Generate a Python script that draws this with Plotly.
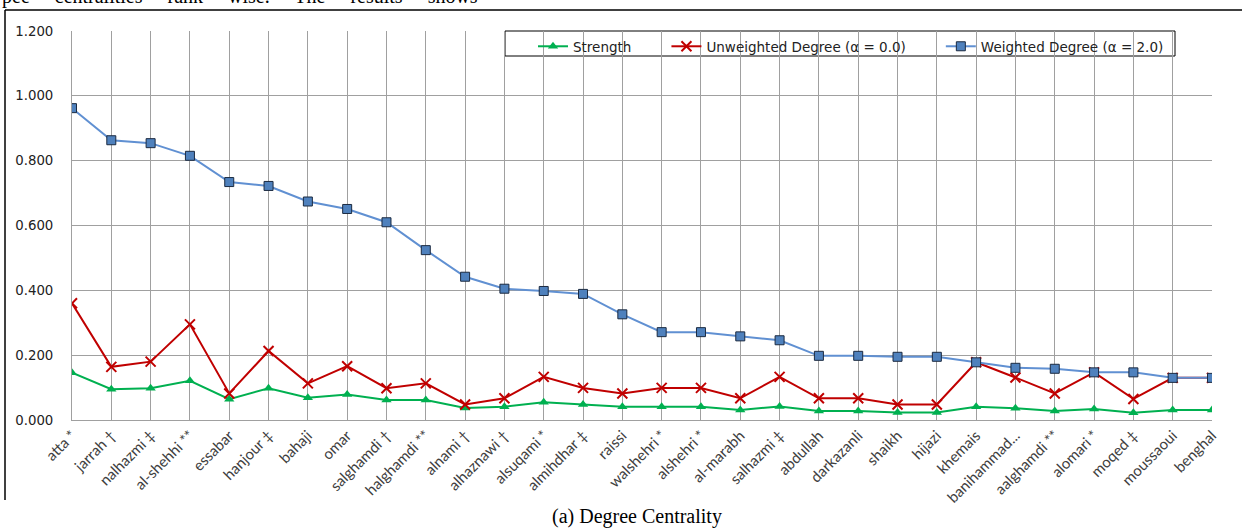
import plotly.graph_objects as go

categories = ["atta *", "jarrah \u2020", "nalhazmi \u2021", "al-shehhi **", "essabar", "hanjour \u2021",
              "bahaji", "omar", "salghamdi \u2020", "halghamdi **", "alnami \u2020", "alhaznawi \u2020",
              "alsuqami *", "almihdhar \u2021", "raissi", "walshehri *", "alshehri *", "al-marabh",
              "salhazmi \u2021", "abdullah", "darkazanli", "shaikh", "hijazi", "khemais",
              "banihammad...", "aalghamdi **", "alomari *", "moqed \u2021", "moussaoui", "benghal"]

strength = [0.146, 0.095, 0.098, 0.121, 0.064, 0.098, 0.069, 0.079, 0.062, 0.062,
            0.037, 0.041, 0.055, 0.048, 0.041, 0.041, 0.041, 0.031, 0.042, 0.028,
            0.028, 0.023, 0.023, 0.041, 0.036, 0.028, 0.034, 0.022, 0.031, 0.031]

unweighted = [0.360, 0.164, 0.180, 0.295, 0.082, 0.213, 0.113, 0.166, 0.098, 0.113,
              0.048, 0.067, 0.133, 0.099, 0.082, 0.099, 0.099, 0.067, 0.133, 0.067,
              0.067, 0.048, 0.048, 0.178, 0.131, 0.082, 0.147, 0.065, 0.130, 0.130]

weighted = [0.962, 0.863, 0.854, 0.815, 0.734, 0.722, 0.674, 0.651, 0.610, 0.524,
            0.442, 0.405, 0.398, 0.389, 0.326, 0.271, 0.271, 0.258, 0.246, 0.198,
            0.198, 0.195, 0.195, 0.178, 0.161, 0.158, 0.147, 0.147, 0.130, 0.130]

y_ticks = [0.0, 0.2, 0.4, 0.6, 0.8, 1.0, 1.2]

GAP = "\u00a0" * 7

fig = go.Figure()
fig.add_trace(go.Scatter(x=categories, y=strength, mode="lines+markers", name="Strength" + GAP,
                         line=dict(color="#00B050", width=2),
                         marker=dict(symbol="triangle-up", size=9, color="#00B050")))
fig.add_trace(go.Scatter(x=categories, y=unweighted, mode="lines+markers",
                         name="Unweighted Degree (\u03b1 = 0.0)" + GAP,
                         line=dict(color="#C00000", width=2),
                         marker=dict(symbol="x-thin", size=10, color="#C00000",
                                     line=dict(color="#C00000", width=2))))
fig.add_trace(go.Scatter(x=categories, y=weighted, mode="lines+markers",
                         name="Weighted Degree (\u03b1 = 2.0)",
                         line=dict(color="#6090D2", width=2),
                         marker=dict(symbol="square", size=9, color="#4F81BD",
                                     line=dict(color="#1B2A40", width=1))))

W, H = 1242, 530
L, R, T, B = 72, 1212, 31, 420

def px(x):
    return (x - L) / (R - L)

def py(y):
    return (B - y) / (B - T)

fig.update_layout(
    width=W, height=H,
    margin=dict(l=L, r=W - R, t=T, b=H - B, autoexpand=False),
    paper_bgcolor="white", plot_bgcolor="white",
    showlegend=True,
    legend=dict(orientation="h", x=px(533), y=1.0, xanchor="left", yanchor="top",
                bgcolor="rgba(0,0,0,0)", borderwidth=0,
                font=dict(family="DejaVu Sans", size=13.5, color="#222222")),
    xaxis=dict(range=[0, len(categories) - 1], showgrid=True, gridcolor="#A0A0A0", gridwidth=1,
               showline=True, linecolor="#A0A0A0", linewidth=1, tickangle=-45,
               tickfont=dict(family="Lato", size=15, color="#404040"),
               ticks="", zeroline=False, automargin=False),
    yaxis=dict(range=[0, 1.2], tickvals=y_ticks, ticktext=[f"{v:.3f}" for v in y_ticks],
               showgrid=True, gridcolor="#A0A0A0", gridwidth=1,
               showline=True, linecolor="#A0A0A0", linewidth=1, zeroline=False,
               tickfont=dict(family="DejaVu Sans", size=13.3, color="#222222"),
               ticks="", ticklabelstandoff=15, automargin=False),
    shapes=[
        dict(type="line", xref="paper", yref="paper", x0=px(5), x1=px(1242), y0=py(10), y1=py(10),
             line=dict(color="#000000", width=1.5)),
        dict(type="line", xref="paper", yref="paper", x0=px(5), x1=px(5), y0=py(10), y1=py(500),
             line=dict(color="#000000", width=1.5)),
        dict(type="rect", xref="paper", yref="paper", x0=px(505), x1=px(1175), y0=py(31), y1=py(56),
             line=dict(color="#000000", width=1), fillcolor="white", layer="below"),
    ],
    annotations=[
        dict(text="(a) Degree Centrality", xref="paper", yref="paper", x=px(637), y=py(516),
             xanchor="center", yanchor="middle", showarrow=False,
             font=dict(family="Liberation Serif", size=20, color="#000000")),
        dict(text="pee\u00a0\u00a0\u00a0\u00a0 centralities\u00a0\u00a0\u00a0\u00a0 rank\u00a0\u00a0\u00a0\u00a0 wise.\u00a0\u00a0\u00a0\u00a0 The\u00a0\u00a0\u00a0\u00a0 results\u00a0\u00a0\u00a0\u00a0 shows",
             xref="paper", yref="paper", x=px(0), y=py(-4),
             xanchor="left", yanchor="middle", showarrow=False,
             font=dict(family="Liberation Serif", size=20, color="#000000")),
    ],
)

fig.write_html("out.html", config={"displayModeBar": False},
               post_script="document.body.style.margin='0px';")
